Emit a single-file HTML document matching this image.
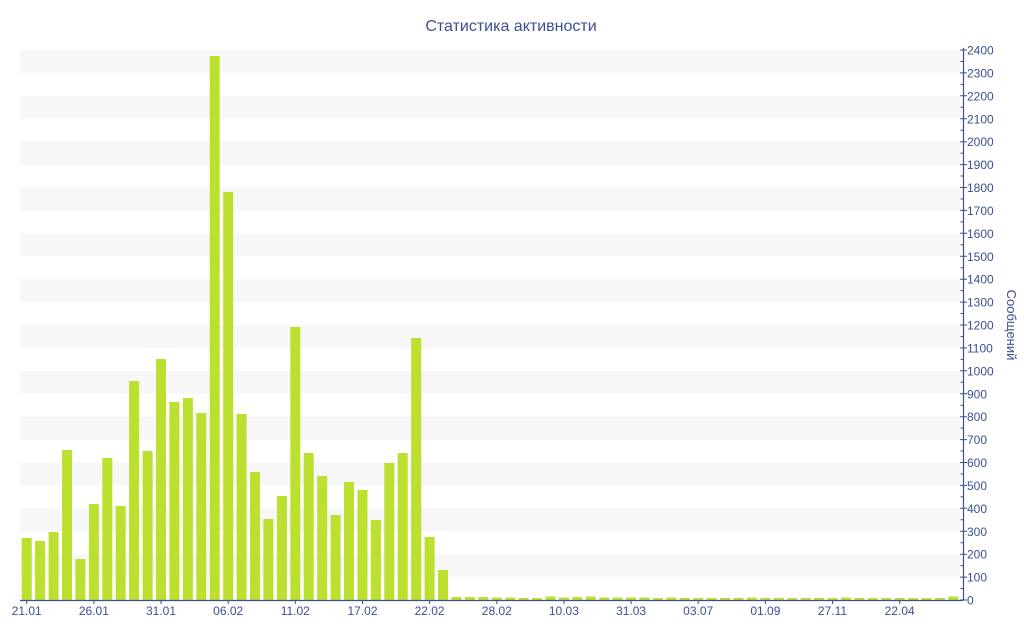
<!DOCTYPE html>
<html><head><meta charset="utf-8"><style>
body{margin:0;background:#fff}
svg{display:block}
text{font-family:"Liberation Sans","DejaVu Sans",sans-serif;fill:#3e4e95}
</style></head><body>
<svg width="1024" height="640" xmlns="http://www.w3.org/2000/svg">
<text x="511" y="31" font-size="16" text-anchor="middle">Статистика активности</text>
<g fill="#f7f7f7">
<rect x="20" y="50" width="940" height="22.9"/><rect x="20" y="95.8" width="940" height="22.9"/><rect x="20" y="141.7" width="940" height="22.9"/><rect x="20" y="187.5" width="940" height="22.9"/><rect x="20" y="233.3" width="940" height="22.9"/><rect x="20" y="279.2" width="940" height="22.9"/><rect x="20" y="325" width="940" height="22.9"/><rect x="20" y="370.8" width="940" height="22.9"/><rect x="20" y="416.7" width="940" height="22.9"/><rect x="20" y="462.5" width="940" height="22.9"/><rect x="20" y="508.3" width="940" height="22.9"/><rect x="20" y="554.2" width="940" height="22.9"/>
</g>
<g fill="#bbe02f">
<rect x="21.7" y="538" width="10" height="62"/><rect x="35.1" y="541" width="10" height="59"/><rect x="48.6" y="532" width="10" height="68"/><rect x="62.0" y="450" width="10" height="150"/><rect x="75.4" y="559" width="10" height="41"/><rect x="88.9" y="504" width="10" height="96"/><rect x="102.3" y="458" width="10" height="142"/><rect x="115.7" y="506" width="10" height="94"/><rect x="129.1" y="381" width="10" height="219"/><rect x="142.6" y="451" width="10" height="149"/><rect x="156.0" y="359" width="10" height="241"/><rect x="169.4" y="402" width="10" height="198"/><rect x="182.9" y="398" width="10" height="202"/><rect x="196.3" y="413" width="10" height="187"/><rect x="209.7" y="56" width="10" height="544"/><rect x="223.2" y="192" width="10" height="408"/><rect x="236.6" y="414" width="10" height="186"/><rect x="250.0" y="472" width="10" height="128"/><rect x="263.4" y="519" width="10" height="81"/><rect x="276.9" y="496" width="10" height="104"/><rect x="290.3" y="327" width="10" height="273"/><rect x="303.7" y="453" width="10" height="147"/><rect x="317.2" y="476" width="10" height="124"/><rect x="330.6" y="515" width="10" height="85"/><rect x="344.0" y="482" width="10" height="118"/><rect x="357.5" y="490" width="10" height="110"/><rect x="370.9" y="520" width="10" height="80"/><rect x="384.3" y="463" width="10" height="137"/><rect x="397.7" y="453" width="10" height="147"/><rect x="411.2" y="338" width="10" height="262"/><rect x="424.6" y="537" width="10" height="63"/><rect x="438.0" y="570" width="10" height="30"/>
<rect x="451.5" y="597" width="10" height="3"/><rect x="464.9" y="597" width="10" height="3"/><rect x="478.3" y="597" width="10" height="3"/><rect x="491.8" y="597.5" width="10" height="2.5"/><rect x="505.2" y="597.5" width="10" height="2.5"/><rect x="518.6" y="598" width="10" height="2"/><rect x="532.0" y="598" width="10" height="2"/><rect x="545.5" y="596.5" width="10" height="3.5"/><rect x="558.9" y="597.5" width="10" height="2.5"/><rect x="572.3" y="597" width="10" height="3"/><rect x="585.8" y="596.5" width="10" height="3.5"/><rect x="599.2" y="597.5" width="10" height="2.5"/><rect x="612.6" y="597.5" width="10" height="2.5"/><rect x="626.1" y="597.5" width="10" height="2.5"/><rect x="639.5" y="597.5" width="10" height="2.5"/><rect x="652.9" y="598" width="10" height="2"/><rect x="666.3" y="597.5" width="10" height="2.5"/><rect x="679.8" y="598" width="10" height="2"/><rect x="693.2" y="598" width="10" height="2"/><rect x="706.6" y="598" width="10" height="2"/><rect x="720.1" y="598" width="10" height="2"/><rect x="733.5" y="598" width="10" height="2"/><rect x="746.9" y="597.5" width="10" height="2.5"/><rect x="760.4" y="598" width="10" height="2"/><rect x="773.8" y="598" width="10" height="2"/><rect x="787.2" y="598" width="10" height="2"/><rect x="800.6" y="598" width="10" height="2"/><rect x="814.1" y="598" width="10" height="2"/><rect x="827.5" y="598" width="10" height="2"/><rect x="840.9" y="597.5" width="10" height="2.5"/><rect x="854.4" y="598" width="10" height="2"/><rect x="867.8" y="598" width="10" height="2"/><rect x="881.2" y="598" width="10" height="2"/><rect x="894.7" y="598" width="10" height="2"/><rect x="908.1" y="598" width="10" height="2"/><rect x="921.5" y="598" width="10" height="2"/><rect x="935.0" y="598" width="10" height="2"/><rect x="948.4" y="596.5" width="10" height="3.5"/>
</g>
<g stroke="#3e4e95" stroke-width="1.2" fill="none">
<line x1="20" y1="600.5" x2="963" y2="600.5"/>
<line x1="963.5" y1="48" x2="963.5" y2="600.5"/>
</g>
<g stroke="#3e4e95" stroke-width="1">
<path d="M26.7 600v4M93.9 600v4M161 600v4M228.2 600v4M295.3 600v4M362.5 600v4M429.6 600v4M496.8 600v4M563.9 600v4M631.1 600v4M698.2 600v4M765.4 600v4M832.5 600v4M899.7 600v4"/>
<path d="M960 50h7M960 72.9h7M960 95.8h7M960 118.8h7M960 141.7h7M960 164.6h7M960 187.5h7M960 210.4h7M960 233.3h7M960 256.3h7M960 279.2h7M960 302.1h7M960 325h7M960 347.9h7M960 370.8h7M960 393.8h7M960 416.7h7M960 439.6h7M960 462.5h7M960 485.4h7M960 508.3h7M960 531.3h7M960 554.2h7M960 577.1h7M960 600h7"/>
<path d="M960.5 61.5h3M960.5 84.4h3M960.5 107.3h3M960.5 130.2h3M960.5 153.1h3M960.5 176h3M960.5 199h3M960.5 221.9h3M960.5 244.8h3M960.5 267.7h3M960.5 290.6h3M960.5 313.5h3M960.5 336.5h3M960.5 359.4h3M960.5 382.3h3M960.5 405.2h3M960.5 428.1h3M960.5 451h3M960.5 474h3M960.5 496.9h3M960.5 519.8h3M960.5 542.7h3M960.5 565.6h3M960.5 588.5h3"/>
</g>
<g font-size="12" text-anchor="middle">
<text x="26.7" y="615">21.01</text><text x="93.9" y="615">26.01</text><text x="161" y="615">31.01</text><text x="228.2" y="615">06.02</text><text x="295.3" y="615">11.02</text><text x="362.5" y="615">17.02</text><text x="429.6" y="615">22.02</text><text x="496.8" y="615">28.02</text><text x="563.9" y="615">10.03</text><text x="631.1" y="615">31.03</text><text x="698.2" y="615">03.07</text><text x="765.4" y="615">01.09</text><text x="832.5" y="615">27.11</text><text x="899.7" y="615">22.04</text>
</g>
<g font-size="12">
<text x="967" y="54.5">2400</text><text x="967" y="77.4">2300</text><text x="967" y="100.3">2200</text><text x="967" y="123.3">2100</text><text x="967" y="146.2">2000</text><text x="967" y="169.1">1900</text><text x="967" y="192">1800</text><text x="967" y="214.9">1700</text><text x="967" y="237.8">1600</text><text x="967" y="260.8">1500</text><text x="967" y="283.7">1400</text><text x="967" y="306.6">1300</text><text x="967" y="329.5">1200</text><text x="967" y="352.4">1100</text><text x="967" y="375.3">1000</text><text x="967" y="398.3">900</text><text x="967" y="421.2">800</text><text x="967" y="444.1">700</text><text x="967" y="467">600</text><text x="967" y="489.9">500</text><text x="967" y="512.8">400</text><text x="967" y="535.8">300</text><text x="967" y="558.7">200</text><text x="967" y="581.6">100</text><text x="967" y="604.5">0</text>
</g>
<text x="1007" y="325" font-size="13" text-anchor="middle" transform="rotate(90 1007 325)">Сообщений</text>
</svg>
</body></html>
